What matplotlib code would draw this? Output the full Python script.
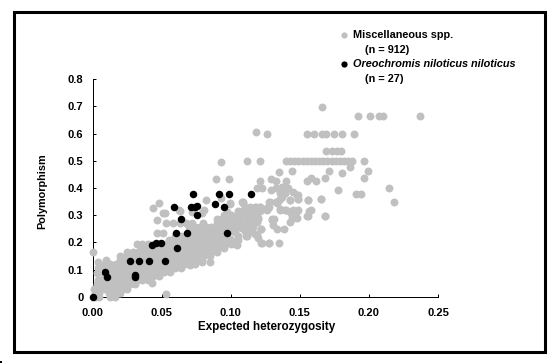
import matplotlib
matplotlib.use("Agg")
import matplotlib.pyplot as plt
from matplotlib.patches import Rectangle

W, H = 554, 364

# Miscellaneous spp., one line per polymorphism level
misc_x = [
    0.002, 0.005, 0.013, 0.016,
    0.002, 0.005, 0.012, 0.016, 0.020,
    0.001, 0.005, 0.009, 0.013, 0.017, 0.021, 0.025,
    0.003, 0.007, 0.011, 0.015, 0.019, 0.023, 0.027, 0.031,
    0.004, 0.008, 0.012, 0.016, 0.020, 0.024, 0.028, 0.032, 0.036, 0.040,
    0.008, 0.012, 0.016, 0.020, 0.024, 0.028, 0.032, 0.036, 0.040, 0.044, 0.048,
    0.012, 0.016, 0.020, 0.024, 0.028, 0.032, 0.036, 0.040, 0.044, 0.048, 0.052, 0.056,
    0.004, 0.008, 0.012, 0.016, 0.020, 0.024, 0.028, 0.032, 0.036, 0.040, 0.044, 0.048, 0.052, 0.056, 0.060, 0.064,
    0.005, 0.009, 0.013, 0.017, 0.021, 0.025, 0.030, 0.034, 0.038, 0.042, 0.046, 0.050, 0.054, 0.058, 0.062, 0.066, 0.070, 0.074,
    0.010, 0.020, 0.024, 0.030, 0.034, 0.038, 0.042, 0.046, 0.050, 0.054, 0.058, 0.062, 0.066, 0.070, 0.074, 0.079,
    0.020, 0.024, 0.028, 0.032, 0.036, 0.040, 0.044, 0.048, 0.052, 0.056, 0.060, 0.064, 0.068, 0.072, 0.076, 0.080, 0.085,
    0.025, 0.029, 0.033, 0.037, 0.041, 0.045, 0.049, 0.053, 0.057, 0.061, 0.065, 0.069, 0.073, 0.077, 0.081, 0.086, 0.090,
    0.035, 0.039, 0.043, 0.047, 0.051, 0.055, 0.059, 0.063, 0.067, 0.071, 0.075, 0.079, 0.083, 0.087, 0.091, 0.095,
    0.032, 0.036, 0.040, 0.045, 0.052, 0.056, 0.060, 0.064, 0.068, 0.072, 0.076, 0.080, 0.084, 0.088, 0.092, 0.096, 0.100,
    0.055, 0.059, 0.063, 0.067, 0.071, 0.075, 0.079, 0.083, 0.087, 0.091, 0.095, 0.100,
    0.060, 0.064, 0.068, 0.072, 0.076, 0.080, 0.084, 0.088, 0.092, 0.096, 0.105,
    0.070, 0.074, 0.078, 0.082, 0.086, 0.090, 0.094, 0.098, 0.102, 0.110, 0.115,
    0.070, 0.074, 0.078, 0.082, 0.086, 0.090, 0.094, 0.098, 0.102, 0.106, 0.112, 0.116,
    0.053, 0.058, 0.063, 0.068, 0.072, 0.080, 0.090, 0.094, 0.098, 0.102, 0.106, 0.112, 0.116,
    0.090, 0.094, 0.098, 0.102, 0.106, 0.112, 0.116, 0.120,
    0.095, 0.100, 0.105, 0.110, 0.114, 0.118,
    0.105, 0.109, 0.113, 0.117, 0.121,
    0.110, 0.114, 0.118,
    # scattered points around the band
    0.000, 0.004, 0.003, 0.043, 0.0535, 0.085, 0.079, 0.0705, 0.086,
    0.048, 0.0435, 0.051, 0.047, 0.0465, 0.051, 0.063,
    0.0995, 0.104, 0.1115, 0.119, 0.122, 0.1275, 0.122, 0.130,
    0.0625, 0.081, 0.072, 0.126, 0.079, 0.0525, 0.082, 0.109, 0.093, 0.0995,
    0.0895, 0.0985, 0.0933,
    0.1085, 0.128, 0.128, 0.1255, 0.121, 0.133, 0.1355, 0.143, 0.149, 0.156, 0.165,
    0.1355, 0.140, 0.145, 0.149, 0.157, 0.155, 0.168, 0.130, 0.145,
    0.119, 0.1225, 0.129, 0.133, 0.138, 0.1415, 0.1355, 0.139, 0.145, 0.149,
    0.121, 0.1295, 0.133, 0.140, 0.155, 0.158, 0.162, 0.168, 0.1965,
    0.135, 0.1445, 0.171, 0.1805, 0.199, 0.186,
    0.178, 0.2145, 0.191, 0.1945, 0.218,
    # the row at 0.5
    0.112, 0.121, 0.140, 0.143, 0.146, 0.149, 0.152, 0.155, 0.158, 0.161, 0.164,
    0.167, 0.170, 0.173, 0.176, 0.179, 0.182, 0.185, 0.188, 0.1965,
    # upper rows
    0.169, 0.173, 0.177, 0.180,
    0.118, 0.126, 0.155, 0.160, 0.166, 0.169, 0.1745, 0.1805, 0.189,
    0.192, 0.201, 0.207, 0.2105, 0.237, 0.166,
    # clusters right of the band, x 0.10 - 0.17
    0.1369, 0.1393, 0.1369, 0.1477, 0.1429, 0.1489, 0.1345, 0.1333, 0.1562, 0.1653,
    0.1092, 0.0995, 0.1284, 0.1272, 0.1248,
    0.114, 0.1176, 0.1212, 0.1104, 0.114, 0.1176, 0.12, 0.1092, 0.1116, 0.1152, 0.1188,
    0.1031, 0.0995, 0.0971, 0.1055, 0.1079, 0.1116, 0.1152, 0.1079,
    0.1357, 0.1393, 0.1429, 0.1477, 0.1441, 0.1477, 0.1429, 0.1581, 0.1562, 0.1682,
    0.1313, 0.1308, 0.1333, 0.1386, 0.1217, 0.1031, 0.1111, 0.1176, 0.12, 0.0995,
    0.1055, 0.1043, 0.1224, 0.1277, 0.135,
]
misc_y = [
    0.000, 0.000, 0.000, 0.000,
    *[0.015] * 5,
    *[0.030] * 7,
    *[0.045] * 8,
    *[0.060] * 10,
    *[0.075] * 11,
    *[0.090] * 12,
    *[0.105] * 16,
    *[0.120] * 18,
    *[0.135] * 16,
    *[0.150] * 17,
    *[0.165] * 17,
    *[0.180] * 16,
    *[0.195] * 17,
    *[0.210] * 12,
    *[0.225] * 11,
    *[0.240] * 11,
    *[0.255] * 12,
    *[0.270] * 13,
    *[0.285] * 8,
    *[0.300] * 6,
    *[0.315] * 5,
    *[0.330] * 3,
    0.166, 0.129, 0.086, 0.049, 0.009, 0.129, 0.128, 0.117, 0.166,
    0.346, 0.328, 0.309, 0.282, 0.2355, 0.2355, 0.315,
    0.213, 0.196, 0.223, 0.227, 0.196, 0.196, 0.249, 0.282,
    0.319, 0.319, 0.313, 0.319, 0.308, 0.309, 0.356, 0.347, 0.362, 0.344,
    0.433, 0.433, 0.497,
    0.347, 0.347, 0.331, 0.322, 0.331, 0.347, 0.358, 0.355, 0.358, 0.355, 0.358,
    0.320, 0.320, 0.320, 0.320, 0.316, 0.297, 0.298, 0.286, 0.290,
    0.400, 0.400, 0.393, 0.400, 0.400, 0.400, 0.380, 0.380, 0.386, 0.375,
    0.426, 0.433, 0.426, 0.426, 0.426, 0.436, 0.426, 0.436, 0.437,
    0.459, 0.463, 0.463, 0.455, 0.463, 0.476,
    0.393, 0.400, 0.377, 0.377, 0.347,
    *[0.500] * 20,
    *[0.535] * 4,
    0.605, *[0.600] * 8,
    0.666, 0.666, 0.666, 0.666, 0.666, 0.697,
    0.405, 0.380, 0.368, 0.374, 0.356, 0.360, 0.352, 0.344, 0.355, 0.358,
    0.346, 0.341, 0.347, 0.331, 0.3215,
    0.325, 0.331, 0.331, 0.315, 0.307, 0.301, 0.288, 0.294, 0.282, 0.276, 0.276,
    0.282, 0.294, 0.313, 0.282, 0.264, 0.258, 0.258, 0.2516,
    0.323, 0.319, 0.313, 0.3154, 0.2945, 0.288, 0.276, 0.319, 0.298, 0.298,
    0.2847, 0.264, 0.248, 0.249, 0.249, 0.237, 0.223, 0.2295, 0.2148, 0.2123,
    0.2086, 0.190, 0.196, 0.196, 0.196,
]

# Oreochromis niloticus niloticus
nilo_x = [0.000, 0.009, 0.0105, 0.031, 0.031, 0.0273, 0.0334, 0.0406, 0.0526,
          0.0432, 0.046, 0.0495, 0.0613, 0.0606, 0.0685, 0.097, 0.064, 0.059,
          0.0714, 0.0743, 0.0753, 0.0753, 0.0885, 0.095, 0.0724, 0.0916, 0.0988, 0.115]
nilo_y = [0.000, 0.092, 0.0725, 0.080, 0.0735, 0.130, 0.130, 0.130, 0.130,
          0.190, 0.198, 0.198, 0.179, 0.2355, 0.2355, 0.2355, 0.285, 0.330,
          0.329, 0.331, 0.334, 0.300, 0.341, 0.330, 0.379, 0.379, 0.379, 0.379]

x_ticks = [0, 0.05, 0.10, 0.15, 0.20, 0.25]
x_labels = ["0.00", "0.05", "0.10", "0.15", "0.20", "0.25"]
y_ticks = [0, 0.1, 0.2, 0.3, 0.4, 0.5, 0.6, 0.7, 0.8]
y_labels = ["0", "0.1", "0.2", "0.3", "0.4", "0.5", "0.6", "0.7", "0.8"]

GREY = "#C0C0C0"
plt.rcParams["font.family"] = ["Liberation Sans", "DejaVu Sans"]
plt.rcParams["font.size"] = 8
plt.rcParams["font.weight"] = "bold"


def px(x, y):
    # pixel position from the top left -> figure fraction
    return x / W, 1 - y / H


fig = plt.figure(figsize=(W / 100, H / 100), dpi=100)
ax = fig.add_axes([92.5 / W, 1 - 296.7 / H, 345.5 / W, 217.4 / H])
ax.set_xlim(0, 0.25)
ax.set_ylim(0, 0.8)

ax.plot(misc_x, misc_y, "o", color=GREY, ms=5.7, mew=0, clip_on=False, zorder=3, antialiased=False)
ax.plot(nilo_x, nilo_y, "o", color="black", ms=5.4, mew=0, clip_on=False, zorder=4, antialiased=False)

ax.spines["top"].set_visible(False)
ax.spines["right"].set_visible(False)
ax.spines["left"].set_linewidth(0.72)
ax.spines["bottom"].set_linewidth(0.72)
ax.set_xticks(x_ticks, x_labels)
ax.set_yticks(y_ticks, y_labels)
ax.tick_params(direction="in", length=2.5, width=0.72, labelsize=8)
ax.tick_params(axis="y", pad=6.5)
ax.tick_params(axis="x", pad=8)

fig.text(*px(267, 327), "Expected heterozygosity", ha="center", va="center", fontsize=8.4)
fig.text(*px(42, 191), "Polymorphism", ha="center", va="center", rotation=90, fontsize=7.8)

# legend is free standing text in the original
fig.text(*px(353, 35), "Miscellaneous spp.", va="center", fontsize=7.8)
fig.text(*px(365, 50), "(n = 912)", va="center", fontsize=7.8)
fig.text(*px(353, 64), "Oreochromis niloticus niloticus", va="center", fontsize=7.8, style="italic")
fig.text(*px(365, 79), "(n = 27)", va="center", fontsize=7.8)
ax_overlay = fig.add_axes([0, 0, 1, 1], facecolor="none")
ax_overlay.set_xlim(0, W)
ax_overlay.set_ylim(H, 0)
ax_overlay.axis("off")
ax_overlay.plot([344], [35], "o", color=GREY, ms=4.5, mew=0, antialiased=False)
ax_overlay.plot([344], [63.5], "o", color="black", ms=4.5, mew=0, antialiased=False)

# outer frame and the stray mark in the corner
ax_overlay.add_patch(Rectangle((13.5, 11.5), 531, 340.5, fill=False, ec="black", lw=2.2))
ax_overlay.add_patch(Rectangle((0, 361), 2, 2, fc="black", ec="none"))

fig.savefig("out.png", dpi=100)
